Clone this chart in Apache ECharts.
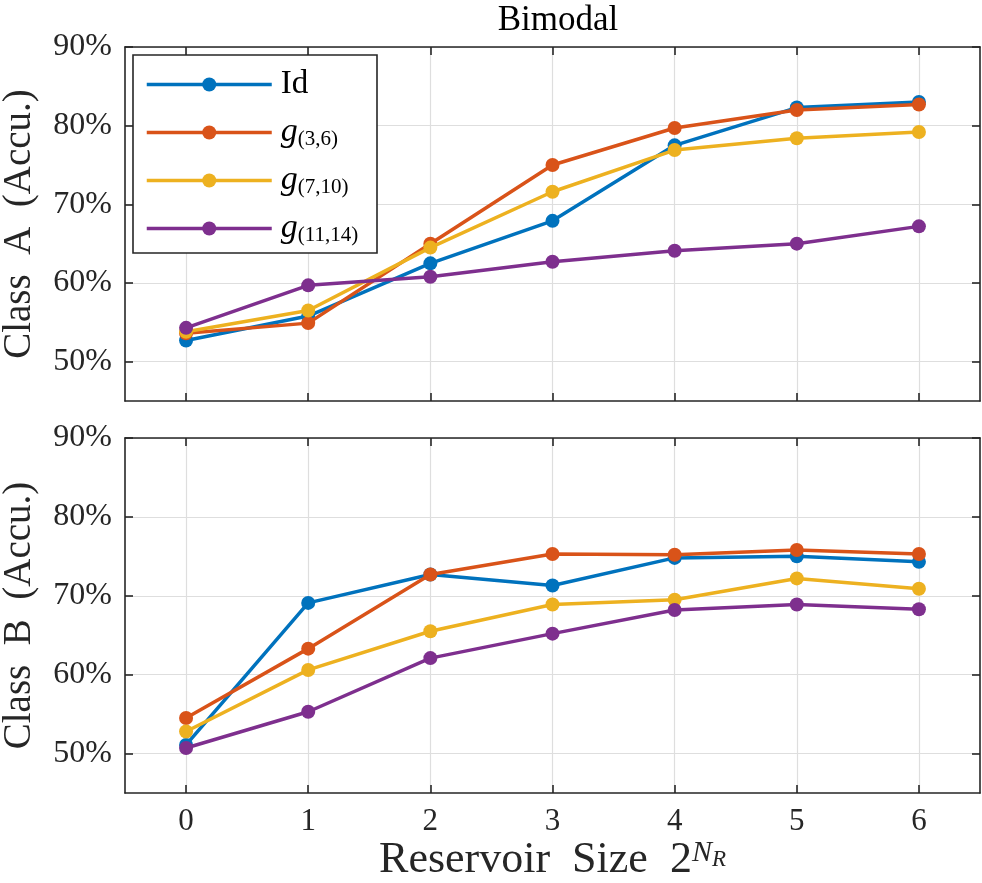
<!DOCTYPE html>
<html>
<head>
<meta charset="utf-8">
<script src="https://cdn.jsdelivr.net/npm/echarts@6/dist/echarts.min.js"></script>
<style>
  html, body { margin: 0; padding: 0; background: #fff; }
  #main { width: 982px; height: 883px; }
</style>
</head>
<body>
<div id="main"></div>
<script>
// values (accuracy in %)
var xValues = [0, 1, 2, 3, 4, 5, 6];
var xTicks = [0, 1, 2, 3, 4, 5, 6];
var yTicks = [50, 60, 70, 80, 90];

var classA_Id = [52.7, 55.8, 62.5, 67.9, 77.5, 82.3, 83.0];
var classA_g36 = [53.6, 54.9, 65.0, 75.0, 79.7, 82.0, 82.7];
var classA_g710 = [53.8, 56.5, 64.5, 71.6, 76.9, 78.4, 79.2];
var classA_g1114 = [54.3, 59.7, 60.8, 62.7, 64.1, 65.0, 67.2];

var classB_Id = [51.1, 69.1, 72.7, 71.3, 74.8, 75.0, 74.3];
var classB_g36 = [54.5, 63.3, 72.7, 75.3, 75.2, 75.8, 75.3];
var classB_g710 = [52.8, 60.6, 65.5, 68.9, 69.5, 72.2, 70.9];
var classB_g1114 = [50.7, 55.3, 62.1, 65.2, 68.2, 68.9, 68.3];

var names = ['Id', 'g36', 'g710', 'g1114'];
var colors = ['#0072BD', '#D95319', '#EDB120', '#7E2F8E'];
var labelRich = {
  Id: '{n|Id}',
  g36: '{g|g}{s|(3,6)}',
  g710: '{g|g}{s|(7,10)}',
  g1114: '{g|g}{s|(11,14)}'
};

var FONT = "'Liberation Serif', 'DejaVu Serif', serif";
var AXIS_COLOR = '#262626';

function pairs(ys) {
  return xValues.map(function (x, i) { return [x, ys[i]]; });
}

function makeSeries(data, idx, axisIdx) {
  return {
    name: names[idx],
    type: 'line',
    xAxisIndex: axisIdx,
    yAxisIndex: axisIdx,
    data: pairs(data),
    symbol: 'circle',
    symbolSize: 14,
    color: colors[idx],
    lineStyle: { width: 3.5, color: colors[idx] },
    itemStyle: { color: colors[idx] },
    z: 3 + idx,
    animation: false
  };
}

function xAxisFor(grid, pos, main, showLabel) {
  return {
    type: 'value', gridIndex: grid, position: pos,
    min: -0.5, max: 6.5,
    nameMoveOverlap: false,
    axisLine: { show: true, onZero: false, lineStyle: { color: AXIS_COLOR, width: 1.6 } },
    axisTick: { show: true, inside: true, length: 8, customValues: xTicks,
                lineStyle: { color: AXIS_COLOR, width: 1.6 } },
    axisLabel: { show: showLabel, customValues: xTicks, margin: 13,
                 fontFamily: FONT, fontSize: 31, color: AXIS_COLOR },
    splitLine: { show: main, lineStyle: { color: '#dedede', width: 1.2 } }
  };
}

function yAxisFor(grid, pos, main, axisName) {
  return {
    type: 'value', gridIndex: grid, position: pos,
    min: 45, max: 90,
    name: axisName, nameLocation: 'middle', nameGap: 86,
    nameMoveOverlap: false,
    nameTextStyle: { fontFamily: FONT, fontSize: 39, color: AXIS_COLOR },
    axisLine: { show: true, onZero: false, lineStyle: { color: AXIS_COLOR, width: 1.6 } },
    axisTick: { show: true, inside: true, length: 8, customValues: yTicks,
                lineStyle: { color: AXIS_COLOR, width: 1.6 } },
    axisLabel: { show: main, customValues: yTicks, margin: 13,
                 formatter: '{value}%', fontFamily: FONT, fontSize: 32, color: AXIS_COLOR },
    splitLine: { show: main, lineStyle: { color: '#dedede', width: 1.2 } }
  };
}

var chart = echarts.init(document.getElementById('main'));

var xBottom = xAxisFor(1, 'bottom', true, true);
xBottom.name = '{t|Reservoir  Size  2}{sup|N}{sub|R}';
xBottom.nameLocation = 'middle';
xBottom.nameGap = 45;
xBottom.nameTextStyle = {
  rich: {
    t: { fontFamily: FONT, fontSize: 44, color: AXIS_COLOR, lineHeight: 54, verticalAlign: 'top' },
    sup: { fontFamily: FONT, fontSize: 30, fontStyle: 'italic', color: AXIS_COLOR, lineHeight: 30, verticalAlign: 'top' },
    sub: { fontFamily: FONT, fontSize: 23, fontStyle: 'italic', color: AXIS_COLOR, lineHeight: 30, verticalAlign: 'top', padding: [10, 0, 0, 0] }
  }
};

var option = {
  backgroundColor: '#ffffff',
  animation: false,
  title: {
    text: 'Bimodal', left: 553, top: -2, textAlign: 'center',
    textStyle: { fontFamily: FONT, fontSize: 35, fontWeight: 'normal', color: '#000' }
  },
  grid: [
    { left: 125, top: 47, width: 855, height: 354, containLabel: false, outerBoundsMode: 'none' },
    { left: 125, top: 438, width: 855, height: 355, containLabel: false, outerBoundsMode: 'none' }
  ],
  xAxis: [
    xAxisFor(0, 'bottom', true, false),
    xAxisFor(0, 'top', false, false),
    xBottom,
    xAxisFor(1, 'top', false, false)
  ],
  yAxis: [
    yAxisFor(0, 'left', true, 'Class  A  (Accu.)'),
    yAxisFor(0, 'right', false, ''),
    yAxisFor(1, 'left', true, 'Class  B  (Accu.)'),
    yAxisFor(1, 'right', false, '')
  ],
  graphic: [{
    type: 'rect', z: 50,
    shape: { x: 133, y: 55, width: 244, height: 198 },
    style: { fill: '#ffffff', stroke: '#262626', lineWidth: 1.6 }
  }],
  legend: {
    z: 60, orient: 'vertical', left: 145, top: 67, padding: 0,
    itemWidth: 125, itemHeight: 17.5, itemGap: 13,
    selectedMode: false,
    data: names,
    lineStyle: { width: 3.5 },
    formatter: function (n) { return labelRich[n]; },
    textStyle: {
      fontFamily: FONT, fontSize: 33, color: '#000', lineHeight: 35, padding: [0, 0, 0, 4],
      rich: {
        n: { fontFamily: FONT, fontSize: 33, color: '#000', lineHeight: 35 },
        g: { fontFamily: FONT, fontSize: 34, fontStyle: 'italic', color: '#000', lineHeight: 35 },
        s: { fontFamily: FONT, fontSize: 21, color: '#000', lineHeight: 14, verticalAlign: 'bottom' }
      }
    }
  },
  series: [
    makeSeries(classA_Id, 0, 0),
    makeSeries(classA_g36, 1, 0),
    makeSeries(classA_g710, 2, 0),
    makeSeries(classA_g1114, 3, 0),
    makeSeries(classB_Id, 0, 2),
    makeSeries(classB_g36, 1, 2),
    makeSeries(classB_g710, 2, 2),
    makeSeries(classB_g1114, 3, 2)
  ]
};

chart.setOption(option);
// redraw once the local fonts are ready so canvas text uses the serif face
if (document.fonts && document.fonts.ready) {
  document.fonts.ready.then(function () {
    chart.setOption(option, true);
  });
}
</script>
</body>
</html>
